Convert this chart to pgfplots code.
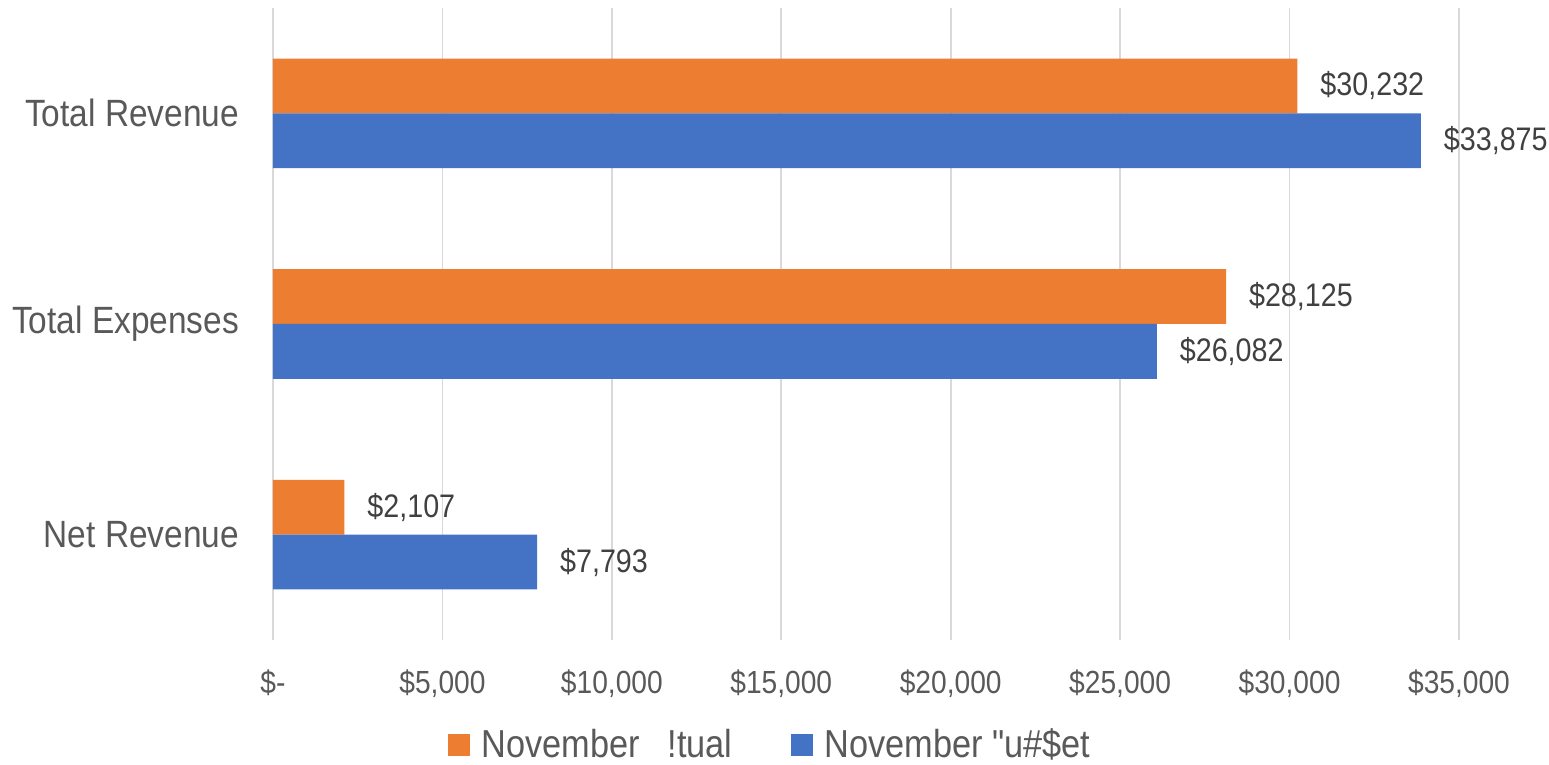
\documentclass[border=0pt]{standalone}
\usepackage{fontspec}
\setmainfont{Liberation Sans}[FakeStretch=0.88]
\usepackage{pgfplots}
\pgfplotsset{compat=1.18}
\definecolor{cOrange}{HTML}{ED7D31}
\definecolor{cBlue}{HTML}{4472C4}
\definecolor{cText}{HTML}{595959}
\definecolor{cLab}{HTML}{404040}
\definecolor{cGrid}{HTML}{D9D9D9}
\begin{document}
\begin{tikzpicture}
\useasboundingbox (-136.5pt,-62.5pt) rectangle (638pt,320pt);
\begin{axis}[
  at={(0,0)}, anchor=south west,
  scale only axis,
  width=593pt, height=316pt,
  xbar,
  xmin=0, xmax=35000,
  ymin=-0.5, ymax=2.5,
  bar width=0.26,
  scaled x ticks=false,
  xtick={0,5000,10000,15000,20000,25000,30000,35000},
  xticklabels={{\$-},{\$5,000},{\$10,000},{\$15,000},{\$20,000},{\$25,000},{\$30,000},{\$35,000}},
  ytick={0,1,2},
  yticklabels={Net Revenue,Total Expenses,Total Revenue},
  xmajorgrids,
  major grid style={cGrid, line width=0.8pt},
  axis line style={draw=none},
  major tick length=0pt,
  tick style={draw=none},
  /pgf/number format/assume math mode=true,
  xticklabel style={font=\fontsize{16}{19}\selectfont, text=cText, yshift=-11.5pt},
  yticklabel style={font=\fontsize{19}{22}\selectfont, text=cText, xshift=-13.5pt},
  nodes near coords={\$\pgfmathprintnumber[fixed,precision=0,1000 sep={,},assume math mode=true]{\pgfplotspointmeta}},
  nodes near coords style={font=\fontsize{16.3}{19}\selectfont, text=cLab, anchor=west, xshift=8pt},
  legend style={draw=none, fill=none, at={(0.42,-0.166)}, anchor=center,
    legend columns=2, font=\fontsize{19.5}{22}\selectfont, text=cText,
    /tikz/every odd column/.append style={column sep=4pt},
    /tikz/every even column/.append style={column sep=27pt}},
  legend image code/.code={\fill[#1] (0pt,-5.5pt) rectangle (11pt,5.5pt);},
  clip=false,
]
\draw[cGrid, line width=0.8pt] (axis cs:0,-0.5) -- (axis cs:0,2.5);
\addplot[fill=cOrange, draw=none, bar shift=0.13] coordinates {(2107,0) (28125,1) (30232,2)};
\addlegendentry{November\ \hspace{9pt}!tual}
\addplot[fill=cBlue, draw=none, bar shift=-0.13] coordinates {(7793,0) (26082,1) (33875,2)};
\addlegendentry{November {\addfontfeature{Ligatures=TeXOff}"}u\#\$et}
\end{axis}
\end{tikzpicture}
\end{document}
